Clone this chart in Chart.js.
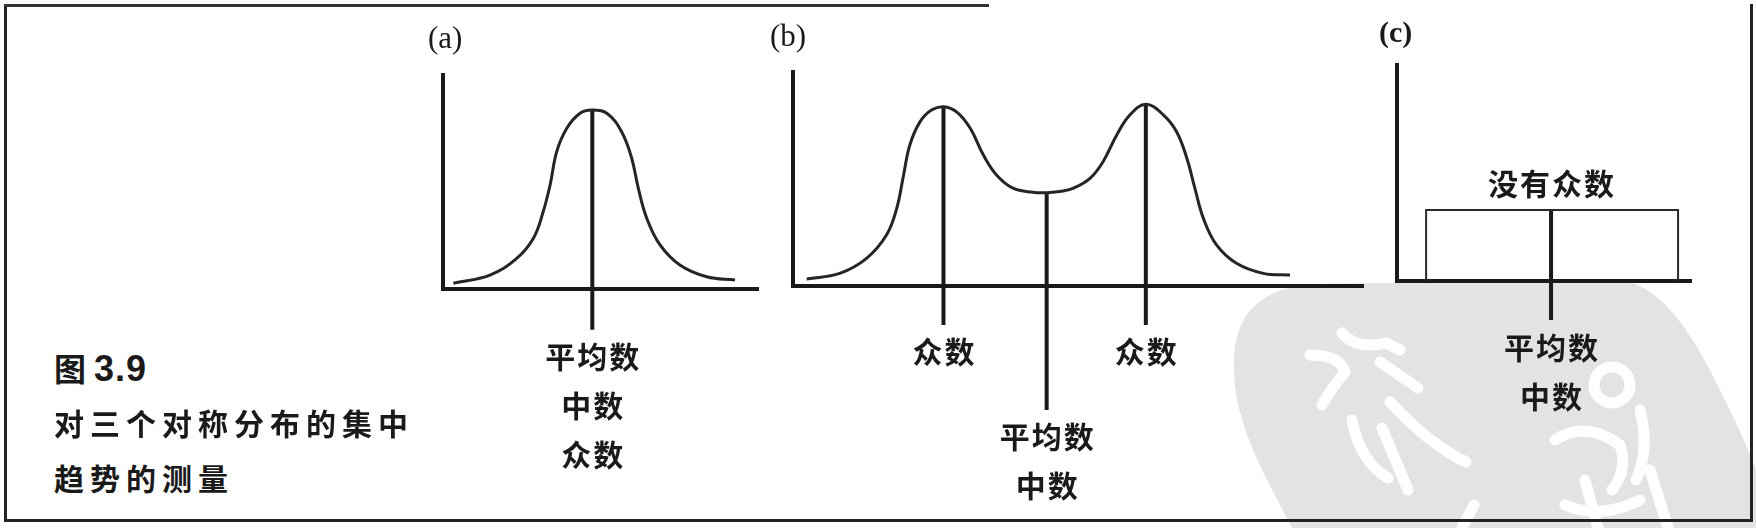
<!DOCTYPE html>
<html lang="zh">
<head>
<meta charset="utf-8">
<title>图 3.9 对三个对称分布的集中趋势的测量</title>
<script src="https://cdn.jsdelivr.net/npm/chart.js@4.4.1/dist/chart.umd.min.js"></script>
<style>
  html, body { margin: 0; padding: 0; background: #fff; }
  body { width: 1756px; height: 528px; position: relative; overflow: hidden; color: #1a1a1a; }
  canvas { position: absolute; top: 0; z-index: 2; }
  #seal { position: absolute; left: 0; top: 0; z-index: 0; }
  .frame { position: absolute; left: 4px; top: 4px; width: 1743px; height: 515px; z-index: 1;
           border-left: 3px solid #222; border-right: 3px solid #222; border-bottom: 3px solid #222; }
  .topline { position: absolute; left: 4px; top: 4px; width: 985px; height: 3px; background: #333; z-index: 1; }
  .txt { position: absolute; z-index: 3; white-space: nowrap; }
  .panel { font-family: "Liberation Serif", "DejaVu Serif", serif; font-size: 31px; line-height: 36px; }
  .fig { left: 54px; top: 346px; line-height: 42px; font-weight: bold; }
  .fig .cjk { font-family: "Noto Sans CJK SC"; font-size: 32px; }
  .fig .num { font-family: "Liberation Sans", Arial, sans-serif; font-size: 36px; letter-spacing: 1px; margin-left: 8px; }
  .cap { font-family: "Noto Sans CJK SC"; font-size: 30px; font-weight: bold; letter-spacing: 6px; line-height: 40px; left: 54px; }
</style>
</head>
<body>

<svg id="seal" width="1756" height="528">
  <path d="M1292 528 C1262 470 1232 420 1234 360 C1236 310 1262 290 1310 284 L1620 280 C1660 285 1690 330 1715 380 C1730 410 1745 440 1756 470 L1756 528 Z" fill="#e3e3e3"/>
  <g fill="none" stroke="#fff" stroke-width="11" stroke-linecap="round" stroke-linejoin="round">
    <path d="M1310 355 Q1340 355 1345 372 Q1330 390 1322 405"/>
    <path d="M1342 333 Q1356 350 1386 343 L1400 350"/>
    <path d="M1380 362 L1418 388"/>
    <path d="M1352 420 Q1360 462 1388 478"/>
    <path d="M1390 402 Q1430 445 1466 462"/>
    <path d="M1382 428 L1408 490"/>
    <circle cx="1612" cy="385" r="18"/>
    <path d="M1555 440 Q1585 420 1620 445 Q1628 470 1612 490"/>
    <path d="M1640 410 Q1650 450 1636 480"/>
    <path d="M1585 480 L1598 528"/>
    <path d="M1650 470 L1668 528"/>
    <path d="M1565 505 Q1600 520 1640 500"/>
    <path d="M1462 528 L1474 505"/>
  </g>
</svg>

<div class="frame"></div>
<div class="topline"></div>

<div class="txt panel" style="left:428px; top:20px;">(a)</div>
<div class="txt panel" style="left:770px; top:18px;">(b)</div>
<div class="txt panel" style="left:1379px; top:14px; font-weight:bold; font-size:30px;">(c)</div>

<div class="txt fig"><span class="cjk">图</span><span class="num">3.9</span></div>
<div class="txt cap" style="top:402px;">对三个对称分布的集中</div>
<div class="txt cap" style="top:457px;">趋势的测量</div>

<canvas id="chartA" width="380" height="528" style="left:400px;"></canvas>
<canvas id="chartB" width="620" height="528" style="left:760px;"></canvas>
<canvas id="chartC" width="360" height="528" style="left:1370px;"></canvas>

<script>
// (a) one symmetric peak
const aCurveX = [3.3, 14.9, 23.4, 28.7, 31.8, 34, 36.1, 39.3, 43.5, 47.2, 52, 56.7, 59.9, 62, 64.7, 68.9, 75.2, 83.7, 92.7];
const aCurveY = [2.7, 6.5, 14.3, 23.7, 36.1, 48.6, 64.2, 75.1, 82.1, 83.6, 82.1, 73.5, 61.1, 47.1, 33, 20.6, 11.2, 5.7, 4.2];
const aMarkX = [47.4];
const aMarkTop = [83.6];
const aMarkBottom = [-19];
const aMarkText = [["平均数", "中数", "众数"]];

// (b) two peaks
const bCurveX = [2.4, 8.2, 12.9, 16.4, 18.2, 19.4, 20.5, 22.3, 24.3, 26.4, 28.7, 31.1, 33.4, 35.7, 38.6, 42.1, 44.5, 47.4, 49.2, 52.1, 54.4, 56.8, 59.1, 61.9, 65, 67.3, 69.1, 70.5, 72, 74.3, 77.8, 82.5, 87.2];
const bCurveY = [3.3, 5.9, 12.9, 23.8, 36.3, 51.9, 65.9, 76.8, 82.2, 83.8, 81.4, 73.7, 61.2, 51.9, 45.7, 43.8, 43.6, 44.4, 45.7, 50.3, 58.1, 70.6, 79.9, 84.9, 79.9, 72.1, 59.7, 45.7, 31.6, 19.2, 10.6, 5.9, 5.1];
const bMarkX = [26.4, 44.5, 61.9];
const bMarkTop = [83.8, 43.6, 84.9];
const bMarkBottom = [-18.2, -57.9, -18.2];
const bMarkText = [["众数"], ["平均数", "中数"], ["众数"]];

// (c) flat / uniform
const cRectX = [9.9, 9.9, 95.6, 95.6];
const cRectY = [0, 32.9, 32.9, 0];
const cMarkX = [52.4];
const cMarkTop = [32.9];
const cMarkBottom = [-18.1];
const cMarkText = [["平均数", "中数"]];
const cTopText = ["没有众数"];

const ink = "#1a1a1a";

const markLabels = {
  id: "markLabels",
  afterDatasetsDraw(chart, args, opts) {
    const {ctx, scales: {x, y}} = chart;
    ctx.save();
    ctx.font = 'bold 30px "Noto Sans CJK SC"';
    ctx.letterSpacing = "2px";
    ctx.fillStyle = ink;
    ctx.textAlign = "center";
    ctx.textBaseline = "middle";
    opts.items.forEach(it => {
      const px = x.getPixelForValue(it.x) + 1;
      it.below.forEach((t, i) => {
        ctx.fillText(t, px, y.getPixelForValue(it.bottom) + 27 + i * 49);
      });
      if (it.above) ctx.fillText(it.above, px, y.getPixelForValue(it.top) - 26);
    });
    ctx.restore();
  }
};

function pts(xs, ys) {
  return xs.map((v, i) => ({x: v, y: ys[i]}));
}

function markSets(xs, tops, bottoms) {
  return xs.map((v, i) => ({
    data: [{x: v, y: tops[i]}, {x: v, y: bottoms[i]}],
    borderColor: ink,
    borderWidth: 4,
    pointRadius: 0,
    tension: 0,
    clip: false
  }));
}

function makeChart(id, datasets, pad, items) {
  const axis = {
    type: "linear",
    min: 0,
    max: 100,
    ticks: {display: false},
    grid: {display: false, drawTicks: false},
    border: {display: true, color: ink, width: 4}
  };
  return new Chart(document.getElementById(id), {
    type: "line",
    data: {datasets: datasets},
    options: {
      responsive: false,
      animation: false,
      devicePixelRatio: 1,
      layout: {padding: pad},
      scales: {x: {...axis}, y: {...axis}},
      plugins: {
        legend: {display: false},
        tooltip: {enabled: false},
        markLabels: {items: items}
      }
    },
    plugins: [markLabels]
  });
}

function curveSet(xs, ys) {
  return {
    data: pts(xs, ys),
    borderColor: "#252525",
    borderWidth: 3,
    pointRadius: 0,
    tension: 0.4,
    clip: false
  };
}

function labelItems(xs, tops, bottoms, texts, aboves) {
  return xs.map((v, i) => ({
    x: v, top: tops[i], bottom: bottoms[i], below: texts[i], above: aboves ? aboves[i] : null
  }));
}

makeChart("chartA",
  [curveSet(aCurveX, aCurveY), ...markSets(aMarkX, aMarkTop, aMarkBottom)],
  {left: 43, right: 22, top: 75, bottom: 239},
  labelItems(aMarkX, aMarkTop, aMarkBottom, aMarkText));

makeChart("chartB",
  [curveSet(bCurveX, bCurveY), ...markSets(bMarkX, bMarkTop, bMarkBottom)],
  {left: 33, right: 17, top: 72, bottom: 242},
  labelItems(bMarkX, bMarkTop, bMarkBottom, bMarkText));

makeChart("chartC",
  [{
    data: pts(cRectX, cRectY),
    borderColor: "#2a2a2a",
    borderWidth: 2,
    pointRadius: 0,
    tension: 0,
    clip: false
  }, ...markSets(cMarkX, cMarkTop, cMarkBottom)],
  {left: 27, right: 39, top: 65, bottom: 247},
  labelItems(cMarkX, cMarkTop, cMarkBottom, cMarkText, cTopText));
</script>
</body>
</html>
